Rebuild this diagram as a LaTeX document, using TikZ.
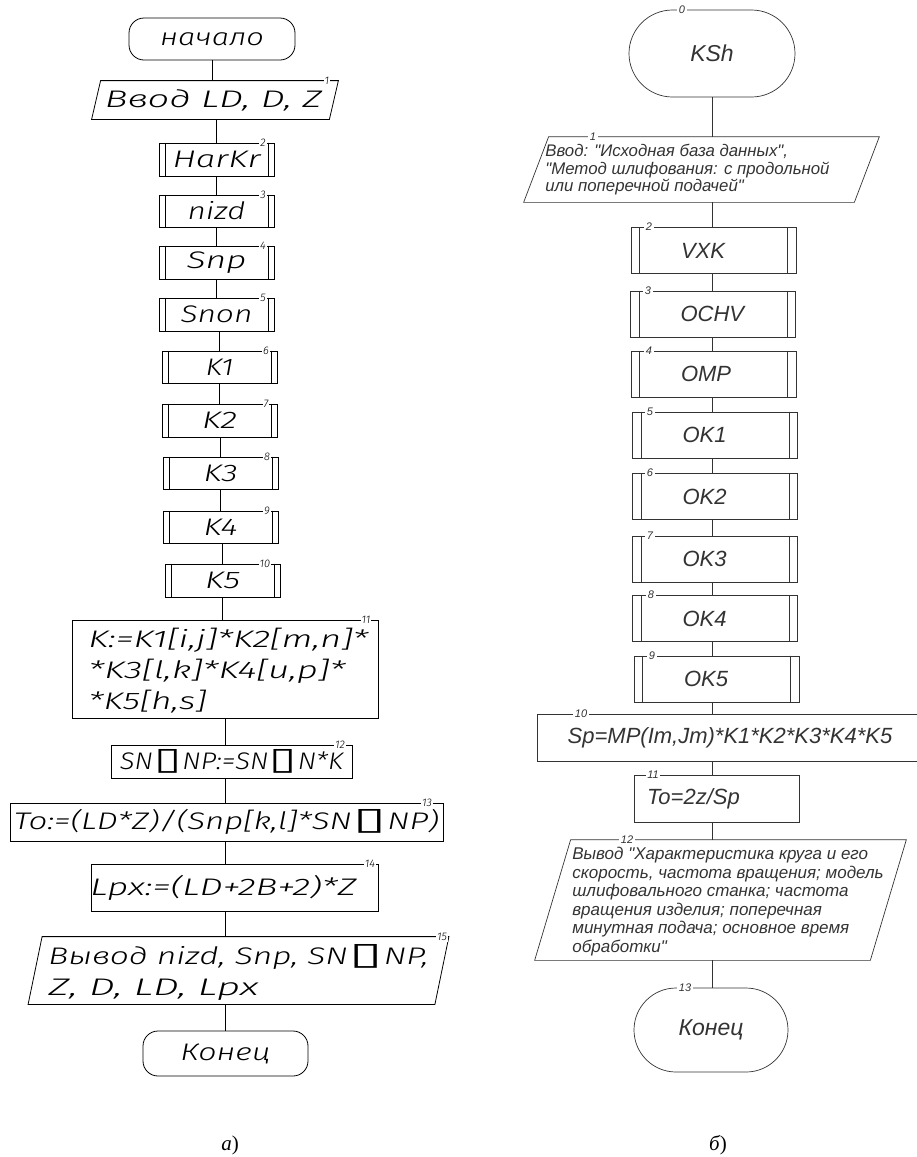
\documentclass[tikz,border=0pt]{standalone}
\usepackage{fontspec}
\usepackage{graphicx}
\newfontfamily\cad{Fira Sans Light Italic}
\newfontfamily\cadnum{Fira Sans Light Italic}
\newfontfamily\arialf{Liberation Sans}
\newfontfamily\serf{Liberation Serif}
\newfontfamily\symf{DejaVu Sans}
\newcommand\sqg{{\symf\kern1pt\scalebox{1.8}[1.3]{▯}\kern1pt}}
\newcommand\cw[2]{\resizebox{#1pt}{\height}{#2}}
\newcommand\subl[2]{\draw ([xshift=#2pt]#1.north west) -- ([xshift=#2pt]#1.south west) ([xshift=-#2pt]#1.north east) -- ([xshift=-#2pt]#1.south east);}
\newcommand\para[2]{\draw ([xshift=#2pt]#1.north west) -- ([xshift=#2pt]#1.north east) -- ([xshift=-#2pt]#1.south east) -- ([xshift=-#2pt]#1.south west) -- cycle;}
\definecolor{rgray}{HTML}{333333}
\tikzset{
  L/.style={font=\cad\fontsize{24}{31}\selectfont, inner sep=0pt},
  lterm/.style={L, draw, rounded corners=15pt},
  lbox/.style={L, draw},
  lshape/.style={inner sep=0pt},
  lnum/.style={font=\cadnum\fontsize{11}{11}\selectfont, fill=white, inner sep=1pt},
  R/.style={font=\arialf\itshape\fontsize{22}{22}\selectfont, inner sep=0pt, text=rgray},
  rsub/.style={R, draw=rgray, minimum width=165pt, minimum height=46pt, text width=65pt, align=left, inner xsep=50pt},
  rsmall/.style={font=\arialf\itshape\fontsize{17}{18.6}\selectfont, text=rgray, inner sep=0pt, align=left},
  rnum/.style={font=\arialf\itshape\fontsize{11}{11}\selectfont, fill=white, inner sep=1.5pt, text=rgray},
  captxt/.style={font=\serf\fontsize{21}{21}\selectfont, inner sep=0pt}
}
\begin{document}
\begin{tikzpicture}[x=1pt,y=-1pt, line width=0.8pt]
\useasboundingbox (0,0) rectangle (916,1157);
% ---------------- left chart ----------------
\node[lterm, minimum width=166pt, minimum height=42pt] (a0) at (212,39) {\cw{104}{начало}};
\node[lshape, minimum width=237pt, minimum height=38pt] (a1) at (215,100) {};
\para{a1}{4.5}
\node[L] (a1t) at (213.5,100) {\cw{217}{Ввод LD, D, Z}};
\node[lnum] (n1) at (327,81) {1};
\foreach \n/\x/\y/\t/\h/\w in {a2/216.5/159.5/HarKr/33/88, a3/216.5/211/nizd/32/58, a4/216.5/262.5/Snp/33/60, a5/216.5/314.5/Snon/33/72, a6/219.5/367/K1/32/28, a7/219.5/420.5/K2/33/35, a8/220.5/473/K3/32/34, a9/220.5/527/K4/32/34, a10/222.5/580.5/K5/33/35}{
  \node[lbox, minimum width=115pt, minimum height=\h pt] (\n) at (\x,\y) {\cw{\w}{\t}};
  \subl{\n}{6.5}
}
\node[lnum] (n2) at (263,143) {2};
\node[lnum] (n3) at (263,195) {3};
\node[lnum] (n4) at (263,246) {4};
\node[lnum] (n5) at (263,298) {5};
\node[lnum] (n6) at (266,351) {6};
\node[lnum] (n7) at (266,404) {7};
\node[lnum] (n8) at (267,457) {8};
\node[lnum] (n9) at (267,511) {9};
\node[lnum] (n10) at (265,564) {10};
\node[lbox, minimum width=306pt, minimum height=98pt] (a11) at (225,669) {};
\node[L, anchor=west, align=left] (a11t) at (88,671) {\cw{280}{K:=K1[i,j]*K2[m,n]*}\\\cw{257}{*K3[l,k]*K4[u,p]*}\\\cw{118}{*K5[h,s]}};
\node[lnum] (n11) at (366,620) {11};
\node[lbox, minimum width=241pt, minimum height=33pt] (a12) at (231.5,761.5) {\cw{223}{SN\sqg NP:=SN\sqg N*K}};
\node[lnum] (n12) at (340,745) {12};
\node[lbox, minimum width=433pt, minimum height=38pt] (a13) at (226.5,822) {\cw{425}{To:=(LD*Z)/(Snp[k,l]*SN\sqg NP)}};
\node[lnum] (n13) at (427,803) {13};
\node[lbox, minimum width=287pt, minimum height=47pt] (a14) at (234.5,887.5) {\hspace*{-22pt}\cw{266}{Lpx:=(LD+2B+2)*Z}};
\node[lnum] (n14) at (370,864) {14};
\node[lshape, minimum width=406pt, minimum height=67pt] (a15) at (238.5,970.5) {};
\para{a15}{7}
\node[L, anchor=west, align=left] (a15t) at (48,972) {\cw{380}{Вывод nizd, Snp, SN\sqg NP,}\\\cw{210}{Z, D, LD, Lpx}};
\node[lnum] (n15) at (442,937) {15};
\node[lterm, minimum width=165pt, minimum height=45pt] (a16) at (225.5,1053.5) {\cw{90}{Конец}};
\draw (a0.south) -- (a0.south |- a1.north);
\draw (a2.north |- a1.south) -- (a2.north);
\draw (a2.south) -- (a3.north);
\draw (a3.south) -- (a4.north);
\draw (a4.south) -- (a5.north);
\draw (a6.north |- a5.south) -- (a6.north);
\draw (a6.south) -- (a7.north);
\draw (a8.north |- a7.south) -- (a8.north);
\draw (a8.south) -- (a9.north);
\draw (a10.north |- a9.south) -- (a10.north);
\draw (a10.south) -- (a10.south |- a11.north);
\draw (a16.north |- a11.south) -- (a16.north |- a12.north);
\draw (a16.north |- a12.south) -- (a16.north |- a13.north);
\draw (a16.north |- a13.south) -- (a16.north |- a14.north);
\draw (a16.north |- a14.south) -- (a16.north |- a15.north);
\draw (a16.north |- a15.south) -- (a16.north);
% ---------------- right chart ----------------
\begin{scope}[draw=rgray, line width=0.7pt]
\node[R, draw=rgray, font=\arialf\itshape\fontsize{23}{23}\selectfont, rounded corners=43.5pt, minimum width=166pt, minimum height=87pt] (b0) at (712,53.5) {KSh};
\node[rnum] (m0) at (682,10) {0};
\node[lshape, minimum width=330pt, minimum height=65pt] (b1) at (701.5,169.5) {};
\draw[rgray] ([xshift=12.5pt]b1.north west) -- ([xshift=12.5pt]b1.north east) -- ([xshift=-12.5pt]b1.south east) -- ([xshift=-12.5pt]b1.south west) -- cycle;
\node[rsmall, anchor=west, font=\arialf\itshape\fontsize{16.8}{17.5}\selectfont] (b1t) at (545,170) {Ввод: "Исходная база данных",\\"Метод шлифования: с продольной\\или поперечной подачей"};
\node[rnum] (m1) at (593,137) {1};
\foreach \n/\x/\y/\t in {b2/713.5/250.5/VXK, b3/713/314/OCHV, b4/713.5/374/OMP, b5/715/435/OK1, b6/715/496.5/OK2, b7/715/559/OK3, b8/715/618.5/OK4, b9/716.5/679/OK5}{
  \node[rsub] (\n) at (\x,\y) {\t};
  \draw[rgray] ([xshift=9pt]\n.north west) -- ([xshift=9pt]\n.south west) ([xshift=-9pt]\n.north east) -- ([xshift=-9pt]\n.south east);
}
\draw[rgray, line width=1.4pt] ([xshift=-9pt]b9.north east) -- ([xshift=-9pt]b9.south east);
\node[rnum] (m2) at (649,227) {2};
\node[rnum] (m3) at (648,291) {3};
\node[rnum] (m4) at (649,351) {4};
\node[rnum] (m5) at (650,412) {5};
\node[rnum] (m6) at (650,473) {6};
\node[rnum] (m7) at (650,536) {7};
\node[rnum] (m8) at (651,595) {8};
\node[rnum] (m9) at (652,656) {9};
\node[R, draw=rgray, minimum width=393pt, minimum height=47pt] (b10) at (733.5,737.5) {Sp=MP(Im,Jm)*K1*K2*K3*K4*K5\hspace*{7pt}};
\node[rnum] (m10) at (581,714) {10};
\node[R, draw=rgray, minimum width=165pt, minimum height=47pt, text width=139pt, align=left, inner xsep=13pt] (b11) at (716.5,798.5) {To=2z/Sp};
\node[rnum] (m11) at (653,775) {11};
\node[lshape, minimum width=335pt, minimum height=120pt] (b12) at (720.5,900) {};
\draw[rgray] ([xshift=18pt]b12.north west) -- ([xshift=18pt]b12.north east) -- ([xshift=-18pt]b12.south east) -- ([xshift=-18pt]b12.south west) -- cycle;
\node[rsmall, anchor=west] (b12t) at (572,901.5) {Вывод "Характеристика круга и его\\скорость, частота вращения; модель\\шлифовального станка; частота\\вращения изделия; поперечная\\минутная подача; основное время\\обработки"};
\node[rnum] (m12) at (627,840) {12};
\node[R, draw=rgray, font=\arialf\itshape\fontsize{23}{23}\selectfont, rounded corners=42pt, minimum width=154pt, minimum height=84pt] (b13) at (711,1030) {Конец};
\node[rnum] (m13) at (685,988) {13};
\draw[rgray] (b0.south) -- (b0.south |- b1.north);
\draw[rgray] (b0.south |- b1.south) -- (b0.south |- b2.north);
\draw[rgray] (b0.south |- b2.south) -- (b0.south |- b3.north);
\draw[rgray] (b0.south |- b3.south) -- (b0.south |- b4.north);
\draw[rgray] (b0.south |- b4.south) -- (b0.south |- b5.north);
\draw[rgray] (b0.south |- b5.south) -- (b0.south |- b6.north);
\draw[rgray] (b0.south |- b6.south) -- (b0.south |- b7.north);
\draw[rgray] (b0.south |- b7.south) -- (b0.south |- b8.north);
\draw[rgray] (b0.south |- b8.south) -- (b0.south |- b9.north);
\draw[rgray] (b0.south |- b9.south) -- (b0.south |- b10.north);
\draw[rgray] (b0.south |- b10.south) -- (b0.south |- b11.north);
\draw[rgray] (b0.south |- b11.south) -- (b0.south |- b12.north);
\draw[rgray] (b0.south |- b12.south) -- (b0.south |- b13.north);
\end{scope}
% captions
\node[captxt] (ca) at (230,1145) {\itshape а\upshape)};
\node[captxt] (cb) at (718,1145) {\itshape б\upshape)};
\end{tikzpicture}
\end{document}
